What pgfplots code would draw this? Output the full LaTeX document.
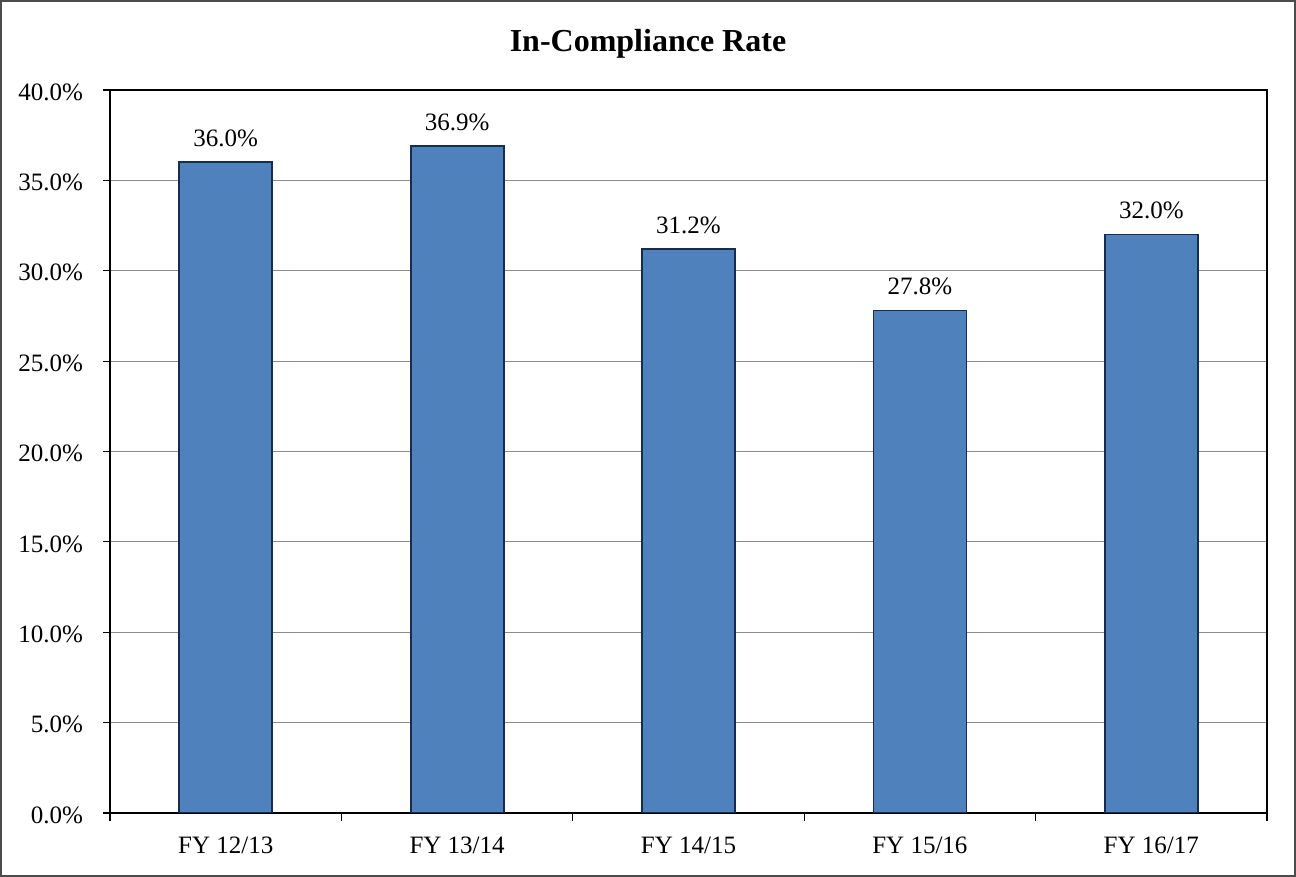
\documentclass[border=0pt]{standalone}
\usepackage{fontspec}
\setmainfont{Liberation Serif}
\usepackage{pgfplots}
\pgfplotsset{compat=1.18}
\definecolor{barfill}{HTML}{4F81BD}
\definecolor{baredge}{HTML}{172C4E}
\begin{document}
\begin{tikzpicture}
\useasboundingbox (0,0) rectangle (648pt,438.5pt);
\draw[line width=1pt, color=black!70] (0.5pt,0.5pt) rectangle (647.5pt,438pt);
\node[font=\fontsize{16}{18}\selectfont\bfseries] at (324pt,416.5pt) {In-Compliance Rate};
\begin{axis}[
  at={(55pt,32pt)}, anchor=south west,
  scale only axis, width=578.5pt, height=361.5pt,
  xmin=-0.5, xmax=4.5, ymin=0, ymax=40,
  ybar, bar width=46.5pt,
  xtick={0,1,2,3,4},
  xticklabels={FY 12/13,FY 13/14,FY 14/15,FY 15/16,FY 16/17},
  major x tick style={draw=none},
  minor xtick={-0.5,0.5,1.5,2.5,3.5,4.5},
  minor tick length=4pt,
  ytick={0,5,...,40},
  major tick length=3.5pt,
  tick align=outside, tick pos=left,
  tick style={black, line width=0.6pt},
  axis line style={black, line width=1pt},
  ymajorgrids, grid style={color=black!45, line width=0.5pt},
  yticklabel={\pgfmathprintnumber[fixed,fixed zerofill,precision=1]{\tick}\%},
  /pgf/number format/assume math mode=true,
  ticklabel style={font=\fontsize{12.5}{14}\selectfont},
  xticklabel style={yshift=-5pt},
  yticklabel style={xshift=-6.5pt, yshift=-1pt},
  nodes near coords={\pgfmathprintnumber[fixed,fixed zerofill,precision=1]{\pgfplotspointmeta}\%},
  nodes near coords style={font=\fontsize{12.5}{14}\selectfont, yshift=4pt},
]
\addplot[fill=barfill, draw=baredge, line width=0.9pt] coordinates {(0,36.0) (1,36.9) (2,31.2) (3,27.8) (4,32.0)};
\end{axis}
\end{tikzpicture}
\end{document}
